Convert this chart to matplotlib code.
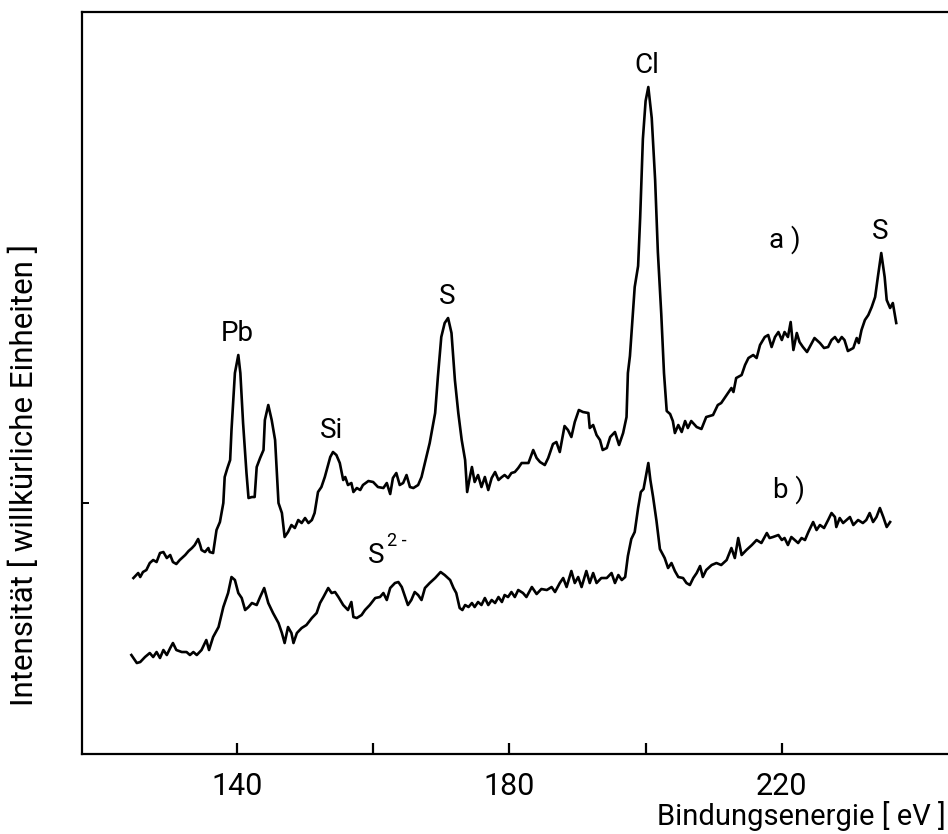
import matplotlib
matplotlib.use("Agg")
import matplotlib.pyplot as plt

# XPS-Übersichtsspektren, Bindungsenergie in eV, Intensität in willkürlichen Einheiten
energy_a = [124.8, 125.5, 125.8, 126.2, 126.7, 127.2, 127.7, 128.2, 128.7, 129.2,
            129.7, 130.2, 130.6, 131.1, 131.6, 132.4, 132.9, 133.4, 133.8, 134.3,
            134.6, 134.8, 135.3, 135.8, 136.0, 136.5, 137.0, 137.5, 138.0, 138.2,
            138.6, 139.0, 139.2, 139.7, 140.2, 140.5, 140.9, 141.4, 141.7, 142.2,
            142.6, 142.9, 143.4, 143.9, 144.1, 144.6, 145.1, 145.6, 146.1, 146.6,
            147.0, 147.5, 148.0, 148.5, 149.0, 149.5, 150.0, 150.5, 151.0, 151.4,
            151.9, 152.4, 152.9, 153.7, 154.1, 154.6, 155.1, 155.6, 155.9, 156.3,
            156.8, 157.1, 157.6, 158.1, 158.5, 159.3, 160.0, 160.7, 161.5, 162.0,
            162.5, 162.9, 163.4, 163.9, 164.4, 164.9, 165.4, 165.9, 166.6, 167.1,
            167.6, 168.3, 169.1, 169.5, 170.0, 170.5, 171.0, 171.5, 172.0, 172.5,
            173.0, 173.5, 173.8, 174.2, 174.5, 174.9, 175.4, 175.9, 176.4, 176.9,
            177.4, 177.9, 178.4, 178.9, 179.3, 179.8, 180.3, 180.8, 181.3, 181.8,
            182.8, 183.5, 184.0, 184.5, 185.2, 185.7, 186.4, 186.9, 187.4, 188.1,
            188.6, 189.1, 189.6, 190.2, 190.8, 191.6, 191.8, 192.3, 192.8, 193.3,
            193.7, 194.3, 194.8, 195.5, 196.1, 196.7, 197.2, 197.4, 197.7, 198.4,
            198.9, 199.2, 199.6, 200.0, 200.4, 200.9, 201.4, 201.8, 202.3, 202.7,
            203.1, 203.6, 204.0, 204.3, 204.8, 205.3, 205.8, 206.2, 206.7, 207.5,
            208.2, 208.9, 209.9, 210.6, 211.1, 211.9, 212.6, 212.9, 213.3, 214.1,
            214.6, 215.1, 215.8, 216.3, 216.8, 217.5, 218.0, 218.5, 219.0, 219.5,
            220.0, 220.4, 220.9, 221.3, 221.7, 222.2, 222.6, 223.1, 223.7, 224.4,
            224.8, 225.6, 226.2, 226.8, 227.3, 227.8, 228.3, 228.8, 229.2, 229.7,
            230.5, 231.0, 231.3, 231.7, 232.2, 232.7, 233.2, 233.7, 234.1, 234.6,
            235.1, 235.4, 235.9, 236.3, 236.8]
counts_a = [176, 181, 177, 182, 184, 191, 194, 192, 201, 202,
            196, 199, 192, 190, 194, 199, 203, 206, 209, 215,
            209, 204, 202, 206, 202, 201, 224, 232, 251, 277,
            286, 294, 324, 381, 399, 381, 331, 281, 256, 257,
            257, 287, 296, 304, 334, 349, 334, 314, 251, 241,
            217, 222, 229, 226, 234, 231, 236, 231, 234, 241,
            262, 267, 277, 297, 302, 299, 291, 274, 277, 269,
            271, 262, 266, 264, 269, 273, 272, 267, 266, 271,
            260, 276, 281, 269, 271, 279, 267, 266, 269, 277,
            291, 311, 341, 377, 417, 431, 436, 421, 374, 341,
            314, 294, 262, 277, 287, 272, 279, 267, 277, 264,
            276, 282, 274, 277, 279, 276, 281, 282, 286, 291,
            291, 304, 296, 292, 289, 296, 310, 312, 302, 328,
            324, 317, 332, 344, 342, 341, 326, 329, 319, 314,
            304, 306, 317, 322, 309, 321, 337, 381, 398, 467,
            488, 536, 615, 653, 667, 636, 574, 502, 440, 381,
            343, 340, 333, 321, 329, 322, 333, 326, 333, 327,
            325, 337, 339, 349, 351, 359, 366, 362, 376, 379,
            389, 396, 399, 396, 409, 417, 419, 407, 417, 422,
            414, 422, 417, 432, 404, 421, 412, 407, 402, 411,
            416, 411, 406, 407, 414, 417, 412, 417, 414, 403,
            406, 416, 411, 424, 434, 439, 447, 457, 477, 501,
            477, 454, 446, 451, 431]

energy_b = [124.5, 125.3, 125.8, 126.5, 127.2, 127.7, 128.2, 128.7, 129.2, 129.7,
            130.2, 130.6, 131.1, 131.9, 132.6, 133.1, 133.6, 134.1, 134.8, 135.5,
            135.9, 136.5, 137.3, 138.0, 138.7, 139.2, 139.7, 140.2, 140.7, 141.2,
            141.7, 142.2, 142.9, 143.4, 144.0, 144.6, 145.3, 146.1, 146.6, 147.0,
            147.5, 148.0, 148.3, 148.8, 149.5, 150.2, 151.0, 151.7, 152.2, 152.7,
            153.4, 153.9, 154.4, 154.9, 155.6, 156.3, 156.8, 157.1, 157.6, 158.3,
            158.8, 159.5, 160.3, 161.0, 161.5, 162.0, 162.5, 163.2, 163.7, 164.2,
            164.7, 165.1, 165.6, 166.1, 166.6, 167.1, 167.6, 168.3, 169.1, 169.9,
            170.5, 171.3, 171.8, 172.2, 172.7, 173.1, 173.5, 174.0, 174.5, 174.9,
            175.4, 175.9, 176.4, 176.9, 177.4, 177.9, 178.4, 178.9, 179.3, 179.8,
            180.3, 180.8, 181.3, 182.0, 182.5, 183.3, 184.0, 184.7, 185.5, 186.2,
            186.7, 187.4, 187.9, 188.4, 189.1, 189.6, 190.1, 190.6, 191.3, 191.8,
            192.3, 192.8, 193.5, 194.3, 195.0, 195.5, 196.0, 196.5, 197.0, 197.4,
            197.9, 198.4, 198.9, 199.3, 199.7, 200.4, 200.7, 201.1, 201.6, 202.1,
            202.8, 203.3, 203.8, 204.3, 204.8, 205.5, 206.0, 206.5, 207.0, 207.5,
            208.0, 208.4, 208.9, 209.7, 210.4, 211.1, 211.9, 212.6, 213.1, 213.6,
            214.1, 214.8, 215.6, 216.3, 217.0, 217.8, 218.2, 218.7, 219.5, 220.0,
            220.4, 220.9, 221.4, 221.9, 222.4, 222.9, 223.4, 223.9, 224.6, 225.1,
            225.6, 226.2, 226.8, 227.3, 227.8, 228.0, 228.5, 229.0, 229.5, 230.0,
            230.5, 231.2, 231.9, 232.4, 232.9, 233.4, 233.9, 234.4, 234.9, 235.4,
            235.9]
counts_b = [99, 91, 92, 97, 101, 97, 102, 96, 104, 99,
            106, 111, 104, 102, 102, 99, 102, 99, 104, 114,
            104, 117, 127, 147, 161, 177, 174, 161, 156, 144,
            147, 151, 149, 157, 166, 151, 141, 131, 121, 111,
            127, 121, 111, 121, 126, 129, 136, 141, 151, 157,
            166, 161, 162, 157, 149, 144, 152, 137, 136, 139,
            144, 149, 156, 157, 161, 154, 166, 171, 172, 167,
            157, 149, 154, 162, 159, 154, 166, 171, 176, 182,
            179, 174, 166, 161, 146, 144, 149, 147, 151, 147,
            152, 149, 156, 149, 154, 151, 157, 152, 159, 157,
            162, 157, 164, 161, 157, 167, 160, 165, 164, 167,
            162, 171, 176, 167, 183, 171, 177, 167, 183, 171,
            181, 171, 176, 176, 181, 171, 179, 174, 177, 198,
            215, 222, 246, 262, 265, 291, 274, 257, 233, 205,
            196, 186, 191, 183, 177, 176, 171, 169, 176, 181,
            188, 177, 184, 189, 191, 189, 194, 206, 196, 216,
            199, 204, 209, 214, 211, 221, 216, 217, 219, 214,
            216, 209, 217, 214, 211, 216, 214, 222, 232, 224,
            229, 226, 234, 241, 237, 227, 236, 231, 234, 237,
            229, 234, 231, 234, 241, 232, 237, 246, 237, 227,
            232]

tick_energies = [140, 160, 180, 200, 220]
tick_labels = ["140", "", "180", "", "220"]

plt.rcParams["font.family"] = ["Roboto", "DejaVu Sans"]

fig = plt.figure(figsize=(9.48, 8.34), dpi=100)
ax = fig.add_axes([0.0865, 0.0959, 0.9135, 0.8897])

ax.plot(energy_a, counts_a, color="black", lw=1.9, solid_joinstyle="round")
ax.plot(energy_b, counts_b, color="black", lw=1.9, solid_joinstyle="round")

ax.set_xlim(117.25, 244.4)
ax.set_ylim(0, 742)

ax.spines["right"].set_visible(False)
for side in ("left", "bottom", "top"):
    ax.spines[side].set_linewidth(1.6)

ax.set_xticks(tick_energies)
ax.set_xticklabels(tick_labels)
ax.tick_params(axis="x", direction="in", length=8, width=1.6, pad=13,
               labelsize=22, top=False)
ax.set_yticks([251])
ax.set_yticklabels([""])
ax.tick_params(axis="y", direction="in", length=5, width=1.4)

# Peakbeschriftungen über den Maxima von Spektrum a
peak_labels = [("Pb", 140.2), ("Si", 154.1), ("S", 171.0), ("Cl", 200.4), ("S", 234.6)]
for name, e in peak_labels:
    y = counts_a[energy_a.index(e)]
    ax.text(e - 0.2, y + 8, name, ha="center", va="bottom", fontsize=20)

ax.text(220.4, 514, "a )", ha="center", va="center", fontsize=20)
ax.text(221.0, 264, "b )", ha="center", va="center", fontsize=20)
ax.text(160.4, 199, "S", ha="center", va="center", fontsize=20)
ax.text(163.4, 213, "2 -", ha="center", va="center", fontsize=13)

ax.set_xlabel("Bindungsenergie [ eV ]", fontsize=21, ha="right")
ax.xaxis.set_label_coords(0.997, -0.063)
ax.set_ylabel("Intensität [ willkürliche Einheiten ]", fontsize=22.5)
ax.yaxis.set_label_coords(-0.05, 0.376)

fig.savefig("out.png", dpi=100)
